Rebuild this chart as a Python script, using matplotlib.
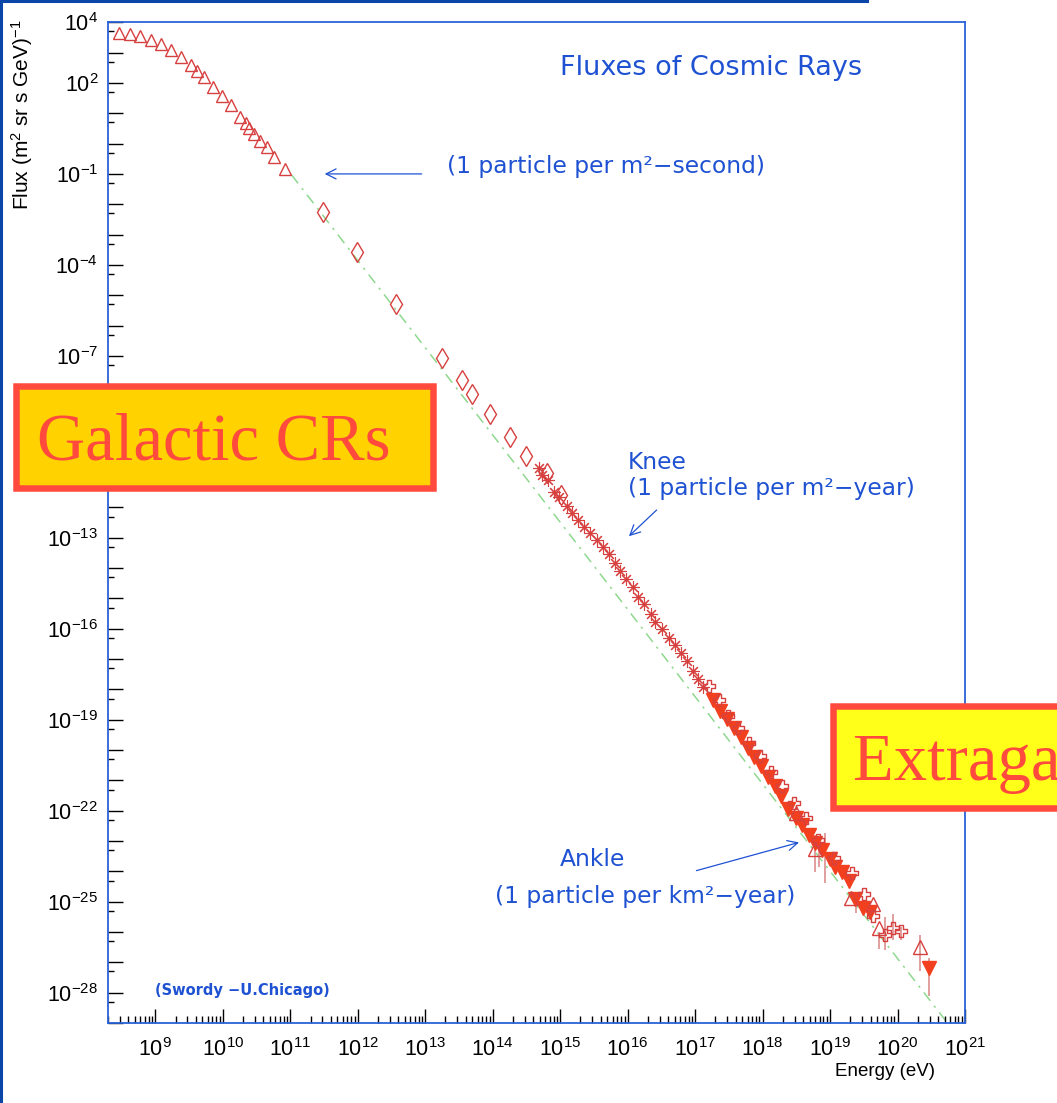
import numpy as np
import matplotlib.pyplot as plt
from matplotlib.patches import Rectangle
from matplotlib.lines import Line2D
from matplotlib.ticker import FixedLocator, LogLocator, FuncFormatter, NullFormatter

plt.rcParams['font.family'] = 'Liberation Sans'
plt.rcParams['mathtext.default'] = 'regular'

# all energies in log10(E / eV), fluxes in log10(flux / (m^2 sr s GeV))
# direct measurements, low energy (open triangles)
tri_logE = [8.47, 8.62, 8.78, 8.94, 9.08, 9.23, 9.38, 9.53, 9.62, 9.73, 9.86,
            9.99, 10.12, 10.26, 10.34, 10.39, 10.46, 10.55, 10.65, 10.76, 10.92]
tri_logF = [3.64, 3.60, 3.55, 3.42, 3.27, 3.09, 2.85, 2.59, 2.40, 2.19, 1.88,
            1.57, 1.26, 0.89, 0.67, 0.51, 0.32, 0.10, -0.12, -0.43, -0.85]

# balloon / satellite (open diamonds)
dia_logE = [11.49, 11.99, 12.57, 13.25, 13.55, 13.70, 13.96, 14.26, 14.49, 14.81, 15.02]
dia_logF = [-2.24, -3.58, -5.29, -7.08, -7.79, -8.27, -8.92, -9.66, -10.30, -10.87, -11.59]

# air shower arrays around the knee (asterisks)
ast_logE = [14.68, 14.73, 14.82, 14.91, 14.98, 15.10, 15.18, 15.27, 15.36, 15.44,
            15.54, 15.63, 15.72, 15.81, 15.88, 15.98, 16.08, 16.16, 16.24, 16.34,
            16.41, 16.51, 16.61, 16.70, 16.79, 16.88, 16.97, 17.05, 17.12]
ast_logF = [-10.71, -10.93, -11.11, -11.48, -11.64, -11.94, -12.17, -12.41, -12.65, -12.85,
            -13.07, -13.29, -13.53, -13.82, -14.08, -14.37, -14.61, -14.94, -15.18, -15.51,
            -15.76, -16.01, -16.31, -16.55, -16.80, -17.05, -17.38, -17.66, -17.93]

# highest energies (filled down triangles)
dtri_logE = [17.27, 17.37, 17.47, 17.58, 17.68, 17.78, 17.87, 17.98, 18.08, 18.18,
             18.28, 18.38, 18.49, 18.58, 18.69, 18.77, 18.88, 19.00, 19.08, 19.17,
             19.28, 19.37, 19.49, 19.59, 20.47]
dtri_logF = [-18.34, -18.70, -18.98, -19.28, -19.57, -19.94, -20.23, -20.54, -20.89, -21.20,
             -21.53, -21.95, -22.24, -22.47, -22.80, -23.05, -23.29, -23.60, -23.86, -24.01,
             -24.31, -24.91, -25.21, -25.33, -27.19]

# highest energies (open crosses)
crs_logE = [17.20, 17.36, 17.49, 17.63, 17.80, 17.96, 18.12, 18.29, 18.47, 18.65,
            18.82, 19.06, 19.33, 19.50, 19.63, 19.81, 19.93, 20.05]
crs_logF = [-17.88, -18.34, -18.87, -19.28, -19.77, -20.21, -20.71, -21.18, -21.75, -22.24,
            -22.97, -23.56, -24.06, -24.74, -25.46, -26.10, -25.86, -25.97]

# highest energies (open triangles)
hetri_logE = [18.50, 18.78, 19.31, 19.64, 19.73, 20.33]
hetri_logF = [-22.08, -23.27, -24.89, -25.06, -25.88, -26.49]

# error bars at the highest energies
err_logE = [18.78, 18.84, 18.93, 19.38, 19.73, 19.82, 19.94, 20.05, 20.33, 20.47]
err_lo = [-24.02, -23.85, -24.38, -25.37, -26.56, -26.60, -26.25, -26.25, -27.30, -28.12]
err_hi = [-22.80, -22.83, -22.73, -24.94, -25.99, -25.49, -25.39, -25.82, -26.09, -26.86]

# power law guide line
fit_logE = [11.02, 20.74]
fit_logF = [-1.03, -29.0]

xtick_exp = list(range(9, 22))
ytick_exp = list(range(-29, 5))
ylabel_exp = [4, 2, -1, -4, -7, -13, -16, -19, -22, -25, -28]

W, H = 1057, 1103
red = '#d6403f'
fill_red = '#f2401f'
err_red = '#d98585'
blue = '#1f52d2'
spine_blue = '#2a62d8'


def fx(px):
    return px / W


def fy(py):
    return 1 - py / H


def p10(v):
    return 10.0 ** np.asarray(v)


fig = plt.figure(figsize=(W / 100, H / 100), dpi=100)
ax = fig.add_axes([fx(108), fy(1023), fx(965) - fx(108), fy(22.3) - fy(1023)])

ax.set_xscale('log')
ax.set_yscale('log')
ax.set_xlim(10 ** 8.3, 1e21)
ax.set_ylim(1e-29, 1e4)

ax.plot(p10(fit_logE), p10(fit_logF), color='#8fd88f', lw=1.1,
        ls=(0, (7, 4, 1.5, 4)), zorder=1)

ax.vlines(p10(err_logE), p10(err_lo), p10(err_hi), color=err_red, lw=1.1, zorder=2)

ax.plot(p10(tri_logE), p10(tri_logF), ls='none', marker='^', ms=8.5, mfc='none',
        mec=red, mew=1.0, zorder=3)
ax.plot(p10(dia_logE), p10(dia_logF), ls='none', marker='d', ms=10, mfc='none',
        mec=red, mew=1.0, zorder=3)
ax.plot(p10(ast_logE), p10(ast_logF), ls='none', marker=(8, 2, 0), ms=9,
        mec=red, mew=0.8, zorder=3)
ax.plot(p10(dtri_logE), p10(dtri_logF), ls='none', marker='v', ms=9.5,
        mfc=fill_red, mec=fill_red, zorder=4)

cross = [(-1 / 3, 1), (1 / 3, 1), (1 / 3, 1 / 3), (1, 1 / 3), (1, -1 / 3), (1 / 3, -1 / 3),
         (1 / 3, -1), (-1 / 3, -1), (-1 / 3, -1 / 3), (-1, -1 / 3), (-1, 1 / 3),
         (-1 / 3, 1 / 3), (-1 / 3, 1)]
ax.plot(p10(crs_logE), p10(crs_logF), ls='none', marker=cross, ms=9, mfc='none',
        mec=red, mew=1.0, zorder=5)
ax.plot(p10(hetri_logE), p10(hetri_logF), ls='none', marker='^', ms=9.5, mfc='none',
        mec=red, mew=1.0, zorder=5)

# ticks
ax.xaxis.set_major_locator(FixedLocator(p10(xtick_exp)))
ax.xaxis.set_minor_locator(LogLocator(base=10, subs=np.arange(2, 10), numticks=100))
ax.xaxis.set_major_formatter(FuncFormatter(lambda v, p: '$10^{%d}$' % round(np.log10(v))))
ax.xaxis.set_minor_formatter(NullFormatter())

ax.yaxis.set_major_locator(FixedLocator(p10(ytick_exp)))
ax.yaxis.set_minor_locator(LogLocator(base=10, subs=[5], numticks=100))


def ylab(v, p):
    e = int(round(np.log10(v)))
    return '$10^{%d}$' % e if e in ylabel_exp else ''


ax.yaxis.set_major_formatter(FuncFormatter(ylab))
ax.yaxis.set_minor_formatter(NullFormatter())

ax.tick_params(which='both', direction='in', top=False, right=False, color='black',
               width=1.0)
ax.tick_params(axis='x', which='major', length=10, pad=11, labelsize=15.5)
ax.tick_params(axis='x', which='minor', length=5)
ax.tick_params(axis='y', which='major', length=11, pad=7, labelsize=15.5)
ax.tick_params(axis='y', which='minor', length=4.5)

for s in ax.spines.values():
    s.set_color(spine_blue)
    s.set_linewidth(1.3)

# axis titles
fig.text(fx(22), fy(20), 'Flux (m$^{2}$ sr s GeV)$^{-1}$', rotation=90,
         ha='center', va='top', fontsize=15)
fig.text(fx(935), fy(1071), 'Energy (eV)', ha='right', va='center', fontsize=13.5)

# annotations
tfont = dict(family='DejaVu Sans', color=blue)
fig.text(fx(560), fy(68), 'Fluxes of Cosmic Rays', ha='left', va='center',
         fontsize=19.5, **tfont)
fig.text(fx(447), fy(167), '(1 particle per m²−second)', ha='left', va='center',
         fontsize=16.8, **tfont)
fig.text(fx(628), fy(462), 'Knee', ha='left', va='center', fontsize=16.8, **tfont)
fig.text(fx(628), fy(489), '(1 particle per m²−year)', ha='left', va='center',
         fontsize=16.8, **tfont)
fig.text(fx(560), fy(860), 'Ankle', ha='left', va='center', fontsize=16.8, **tfont)
fig.text(fx(495), fy(896), '(1 particle per km²−year)', ha='left', va='center',
         fontsize=16.8, **tfont)
fig.text(fx(155), fy(990), '(Swordy −U.Chicago)', ha='left', va='center',
         fontsize=10.5, fontweight='bold', **tfont)

arrow = dict(arrowstyle='->', color=blue, lw=0.9, mutation_scale=18)
ax.annotate('', xy=(10 ** 11.47, 10 ** -1.0), xytext=(10 ** 12.99, 10 ** -1.0),
            arrowprops=arrow)
ax.annotate('', xy=(10 ** 15.99, 10 ** -13.01), xytext=(10 ** 16.46, 10 ** -12.02),
            arrowprops=arrow)
ax.annotate('', xy=(10 ** 18.58, 10 ** -23.02), xytext=(10 ** 16.98, 10 ** -24.0),
            arrowprops=arrow)


# labelled boxes drawn on top of the figure
def box(x0, y0, x1, y1, face, lw_px=6.5):
    h = lw_px / 2
    r = Rectangle((fx(x0 + h), fy(y1 - h)), fx(x1 - h) - fx(x0 + h), fy(y0 + h) - fy(y1 - h),
                  transform=fig.transFigure, facecolor=face, edgecolor='#ff4a3d',
                  linewidth=lw_px * 72 / 100, zorder=10)
    fig.add_artist(r)


box(13, 383, 436, 491, '#ffd200')
fig.text(fx(37), fy(460), 'Galactic CRs', ha='left', va='baseline', fontsize=48,
         family='Liberation Serif', color='#ff4a3d', zorder=11)
box(830, 703, 1100, 811, '#ffff1a')
fig.text(fx(853), fy(780), 'Extragalactic CRs', ha='left', va='baseline', fontsize=48,
         family='Liberation Serif', color='#ff4a3d', zorder=11)

# page frame
fig.add_artist(Line2D([0, fx(867)], [fy(1), fy(1)], transform=fig.transFigure,
                      color='#0a46a8', lw=2.2))
fig.add_artist(Line2D([fx(1), fx(1)], [0, 1], transform=fig.transFigure,
                      color='#0a46a8', lw=2.2))

fig.savefig('out.png', dpi=100)
